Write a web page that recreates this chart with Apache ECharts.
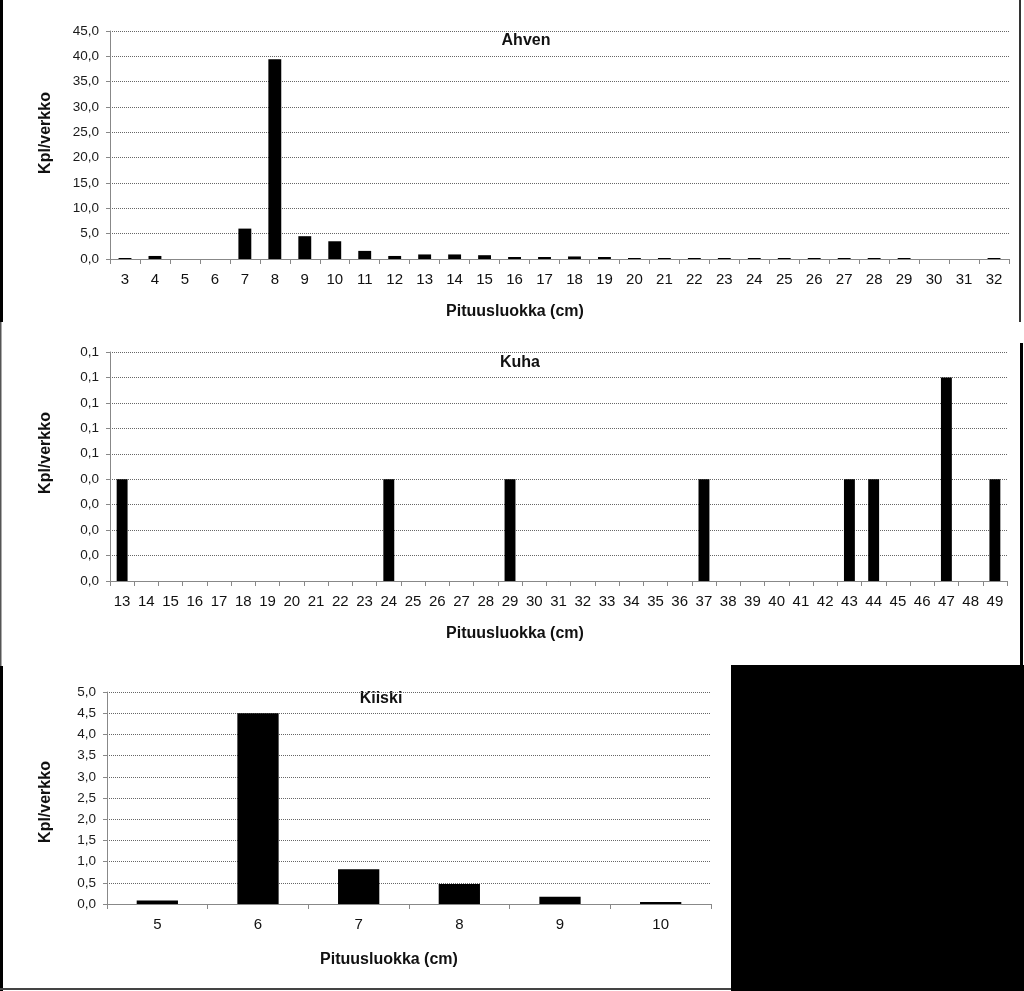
<!DOCTYPE html>
<html>
<head>
<meta charset="utf-8">
<script src="https://cdn.jsdelivr.net/npm/echarts@6/dist/echarts.min.js"></script>
<style>
html,body{margin:0;padding:0;background:#fff;}
#chart{width:1024px;height:991px;}
</style>
</head>
<body>
<div id="chart"></div>
<script>
// ---- Data ----
var ahvenCategories = ['3','4','5','6','7','8','9','10','11','12','13','14','15','16','17','18','19','20','21','22','23','24','25','26','27','28','29','30','31','32'];
var ahvenValues = [0.2,0.6,0,0,6.0,39.4,4.5,3.5,1.6,0.6,0.9,0.9,0.75,0.4,0.4,0.5,0.4,0.2,0.2,0.2,0.2,0.2,0.2,0.2,0.2,0.2,0.2,0,0,0.2];

var kuhaCategories = ['13','14','15','16','17','18','19','20','21','22','23','24','25','26','27','28','29','30','31','32','33','34','35','36','37','38','39','40','41','42','43','44','45','46','47','48','49'];
var kuhaValues = [0.04,0,0,0,0,0,0,0,0,0,0,0.04,0,0,0,0,0.04,0,0,0,0,0,0,0,0.04,0,0,0,0,0,0.04,0.04,0,0,0.08,0,0.04];

var kiiskiCategories = ['5','6','7','8','9','10'];
var kiiskiValues = [0.08,4.5,0.82,0.47,0.17,0.05];

var titles = ['Ahven','Kuha','Kiiski'];
var yAxisName = 'Kpl/verkko';
var xAxisName = 'Pituusluokka (cm)';

// y-axis scales [min, max, interval]
var ahvenScale = [0, 45, 5];
var kuhaScale = [0, 0.09, 0.01];
var kiiskiScale = [0, 5, 0.5];

// ---- Chart ----
function fmt1(v){ return (Math.round(v*10 + 1e-9)/10).toFixed(1).replace('.', ','); }

var FONT = '"Liberation Sans", Arial, sans-serif';
var gridStyle = {show:true, lineStyle:{color:'#666', type:[1,1], width:1}};

function xAxisDef(idx, cats){
  return {
    type:'category', gridIndex:idx, data:cats, boundaryGap:true,
    axisLine:{show:true, lineStyle:{color:'#888', width:1}},
    axisTick:{show:true, alignWithLabel:false, length:5, lineStyle:{color:'#888'}},
    axisLabel:{color:'#111', fontSize:15, fontFamily:FONT, margin:13, interval:0},
    splitLine:{show:false}
  };
}
function yAxisDef(idx, scale){
  return {
    type:'value', gridIndex:idx, min:scale[0], max:scale[1], interval:scale[2],
    axisLine:{show:true, lineStyle:{color:'#888', width:1}},
    axisTick:{show:true, length:4, lineStyle:{color:'#888'}},
    axisLabel:{color:'#1a1a1a', fontSize:13.5, fontFamily:FONT, margin:11, formatter:fmt1},
    splitLine:gridStyle
  };
}
function textTitle(text, x, y){
  return {type:'text', x:x, y:y,
    style:{text:text, font:'bold 16px '+FONT, fill:'#111', textAlign:'center', textVerticalAlign:'middle'}};
}
function yName(x, y){
  return {type:'text', x:x, y:y, rotation:Math.PI/2,
    style:{text:yAxisName, font:'bold 16px '+FONT, fill:'#111', textAlign:'center', textVerticalAlign:'middle'}};
}

var chart = echarts.init(document.getElementById('chart'), null, {renderer:'canvas'});
var option = {
  backgroundColor:'#fff',
  animation:false,
  grid:[
    {left:110, top:31, width:899, height:228},
    {left:110, top:352, width:897, height:229},
    {left:107, top:692, width:604, height:212}
  ],
  xAxis:[xAxisDef(0, ahvenCategories), xAxisDef(1, kuhaCategories), xAxisDef(2, kiiskiCategories)],
  yAxis:[yAxisDef(0, ahvenScale), yAxisDef(1, kuhaScale), yAxisDef(2, kiiskiScale)],
  series:[
    {type:'bar', xAxisIndex:0, yAxisIndex:0, data:ahvenValues, barWidth:'43%', itemStyle:{color:'#000'}},
    {type:'bar', xAxisIndex:1, yAxisIndex:1, data:kuhaValues, barWidth:'45%', itemStyle:{color:'#000'}},
    {type:'bar', xAxisIndex:2, yAxisIndex:2, data:kiiskiValues, barWidth:'41%', itemStyle:{color:'#000'}}
  ],
  graphic:[
    // panel borders
    {type:'rect', shape:{x:0, y:0, width:3, height:322}, style:{fill:'#000'}},
    {type:'rect', shape:{x:1019, y:0, width:2, height:322}, style:{fill:'#333'}},
    {type:'rect', shape:{x:0, y:322, width:1.5, height:344}, style:{fill:'#555'}},
    {type:'rect', shape:{x:1020, y:343, width:3, height:325}, style:{fill:'#000'}},
    {type:'rect', shape:{x:731, y:665, width:293, height:3}, style:{fill:'#000'}},
    {type:'rect', shape:{x:0, y:666, width:3, height:325}, style:{fill:'#000'}},
    {type:'rect', shape:{x:731, y:666, width:293, height:325}, style:{fill:'#000'}},
    {type:'rect', shape:{x:0, y:988, width:731, height:2}, style:{fill:'#444'}},
    // titles
    textTitle(titles[0], 526, 41),
    textTitle(titles[1], 520, 363),
    textTitle(titles[2], 381, 699),
    // x-axis names
    textTitle(xAxisName, 515, 312),
    textTitle(xAxisName, 515, 634),
    textTitle(xAxisName, 389, 960),
    // y-axis names
    yName(46, 133),
    yName(46, 453),
    yName(46, 802)
  ]
};
chart.setOption(option);
</script>
</body>
</html>
